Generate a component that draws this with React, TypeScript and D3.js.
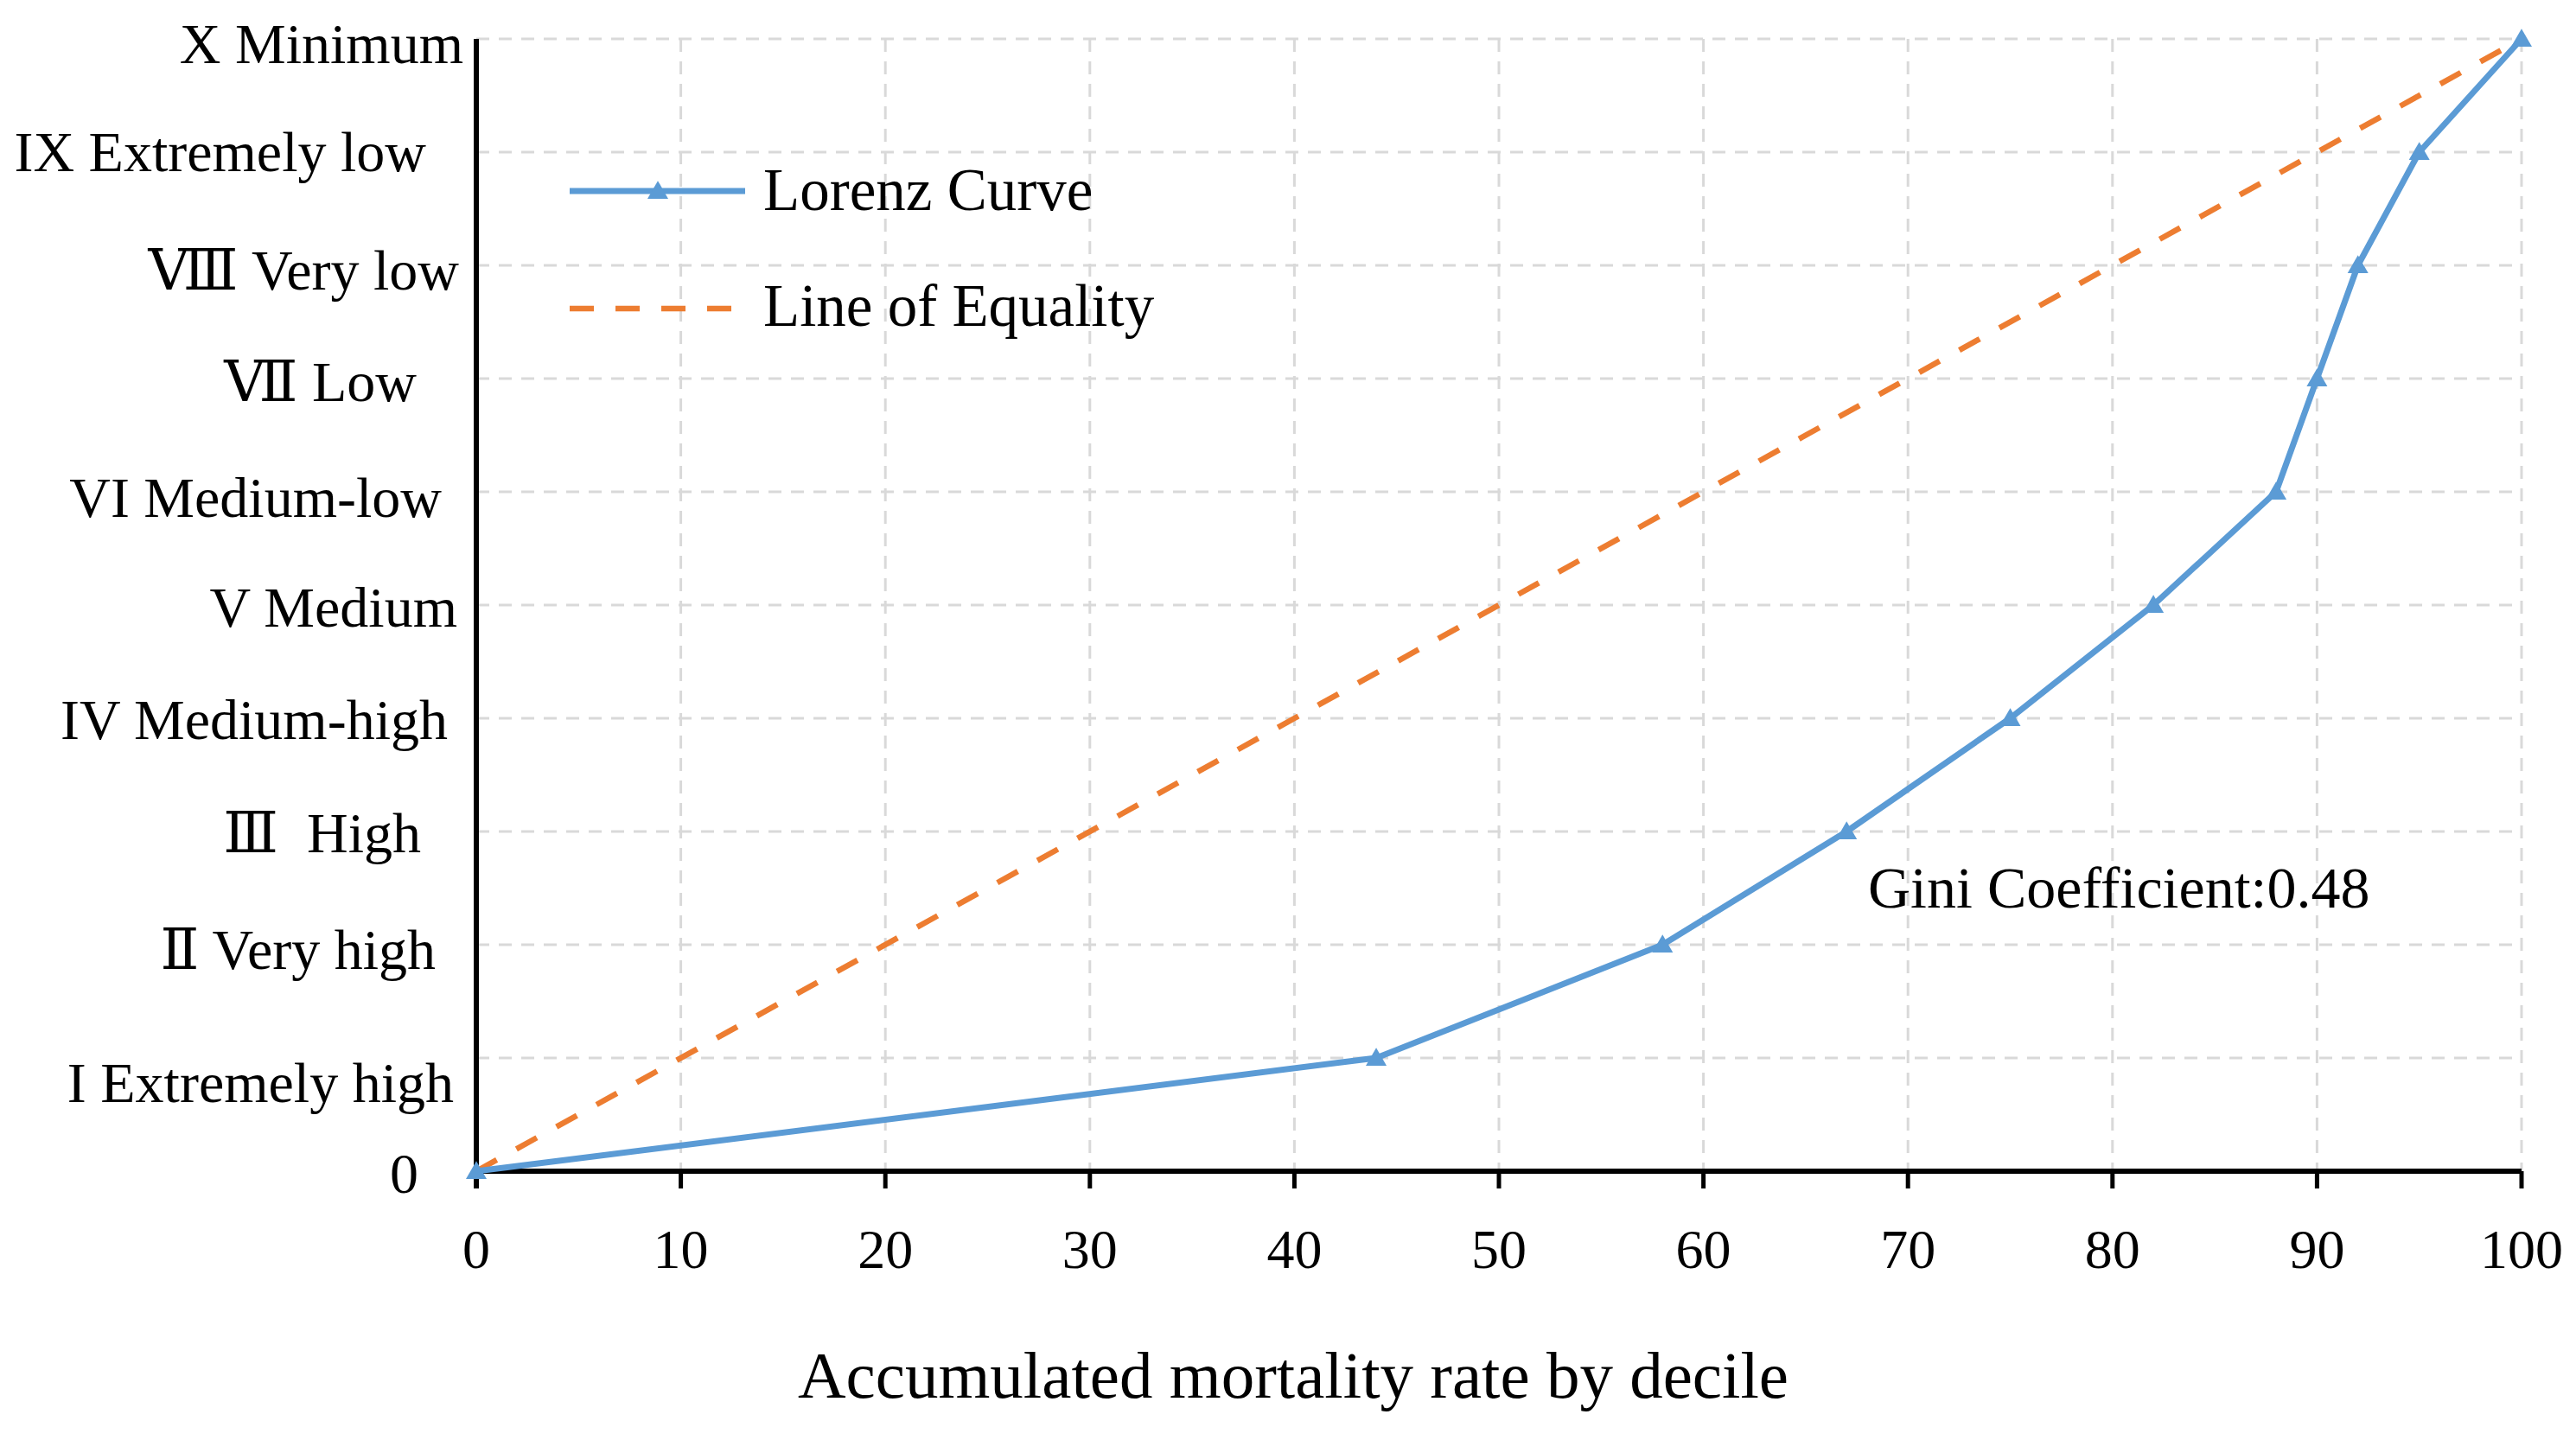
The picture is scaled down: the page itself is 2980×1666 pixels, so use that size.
import React from "react";
import * as d3 from "d3";

// ---- data ----
const lorenzX = [0, 44, 58, 67, 75, 82, 88, 90, 92, 95, 100];
const lorenzY = [0, 1, 2, 3, 4, 5, 6, 7, 8, 9, 10];
const equalityX = [0, 100];
const equalityY = [0, 10];
const xTicks = [0, 10, 20, 30, 40, 50, 60, 70, 80, 90, 100];
const yTickValues = [0, 1, 2, 3, 4, 5, 6, 7, 8, 9, 10];
const yTickLabels = [
  "0",
  "I Extremely high",
  "\u2161 Very high",
  "\u2162  High",
  "IV Medium-high",
  "V Medium",
  "VI Medium-low",
  "\u2166 Low",
  "\u2167 Very low",
  "IX Extremely low",
  "X Minimum",
];
const seriesNames = ["Lorenz Curve", "Line of Equality"];
const giniText = "Gini Coefficient:0.48";
const xTitle = "Accumulated mortality rate by decile";

// ---- layout (manual text placement of the original) ----
const W = 2980;
const H = 1666;
const X0 = 551;
const X1 = 2917;
const Y0 = 1355;
const Y1 = 45;
const labelDx = [-67, -26, -47, -64, -33, -22, -40, -69, -20, -58, -15];
const labelDy = [25, 51, 28, 24, 24, 25, 29, 26, 28, 22, 28];

const FONT = "'Liberation Serif', 'DejaVu Serif', serif";
const BLUE = "#5b9bd5";
const ORANGE = "#ed7d31";
const GRID = "#d9d9d9";

export default function App() {
  const x = d3.scaleLinear().domain([0, 100]).range([X0, X1]);
  const y = d3.scaleLinear().domain([0, 10]).range([Y0, Y1]);

  const lorenz = lorenzX.map((v, i) => [v, lorenzY[i]] as [number, number]);
  const equality = equalityX.map((v, i) => [v, equalityY[i]] as [number, number]);
  const line = d3
    .line<[number, number]>()
    .x((d) => x(d[0]))
    .y((d) => y(d[1]));
  const tri = d3.symbol().type(d3.symbolTriangle).size(250)() as string;

  return (
    <svg
      width={W}
      height={H}
      style={{ position: "absolute", left: 0, top: 0, background: "#fff" }}
      fontFamily={FONT}
    >
      <rect x={0} y={0} width={W} height={H} fill="#fff" />
      {/* grid */}
      {xTicks.filter((t) => t > 0).map((t) => (
        <line
          key={"gx" + t}
          x1={x(t)}
          x2={x(t)}
          y1={y(10)}
          y2={y(0)}
          stroke={GRID}
          strokeWidth={3}
          strokeDasharray="15,11"
        />
      ))}
      {yTickValues.filter((t) => t > 0).map((t) => (
        <line
          key={"gy" + t}
          x1={x(0)}
          x2={x(100)}
          y1={y(t)}
          y2={y(t)}
          stroke={GRID}
          strokeWidth={3}
          strokeDasharray="15,11"
        />
      ))}

      {/* axes */}
      <line x1={x(0)} x2={x(100)} y1={y(0)} y2={y(0)} stroke="#000" strokeWidth={6} />
      <line x1={x(0)} x2={x(0)} y1={y(10)} y2={y(0) + 20} stroke="#000" strokeWidth={6} />
      {xTicks.map((t) => (
        <line key={"tx" + t} x1={x(t)} x2={x(t)} y1={y(0)} y2={y(0) + 20} stroke="#000" strokeWidth={5} />
      ))}
      {xTicks.map((t) => (
        <text key={"lx" + t} x={x(t)} y={1467} fontSize={64} textAnchor="middle" fill="#000">
          {t}
        </text>
      ))}
      {yTickValues.map((t, i) => (
        <text
          key={"ly" + t}
          x={x(0) + labelDx[i]}
          y={y(t) + labelDy[i]}
          fontSize={66}
          textAnchor="end"
          fill="#000"
          style={{ whiteSpace: "pre" }}
        >
          {yTickLabels[i]}
        </text>
      ))}
      <text x={1496} y={1617} fontSize={77} textAnchor="middle" fill="#000">
        {xTitle}
      </text>

      {/* series */}
      <path
        d={line(equality) || ""}
        fill="none"
        stroke={ORANGE}
        strokeWidth={6.5}
        strokeDasharray="27,26"
      />
      <path d={line(lorenz) || ""} fill="none" stroke={BLUE} strokeWidth={7} strokeLinejoin="round" />
      {lorenz.map((d, i) => (
        <path key={"m" + i} d={tri} transform={`translate(${x(d[0])},${y(d[1]) + 2})`} fill={BLUE} />
      ))}

      {/* annotation */}
      <text x={2161} y={1050} fontSize={68} fill="#000">
        {giniText}
      </text>

      {/* legend */}
      <line x1={659} x2={862} y1={221} y2={221} stroke={BLUE} strokeWidth={7} />
      <path d={tri} transform={`translate(761,223)`} fill={BLUE} />
      <text x={883} y={243} fontSize={69} fill="#000">
        {seriesNames[0]}
      </text>
      <line x1={659} x2={851} y1={357} y2={357} stroke={ORANGE} strokeWidth={6.5} strokeDasharray="28,25" />
      <text x={883} y={377} fontSize={69} fill="#000">
        {seriesNames[1]}
      </text>
    </svg>
  );
}
